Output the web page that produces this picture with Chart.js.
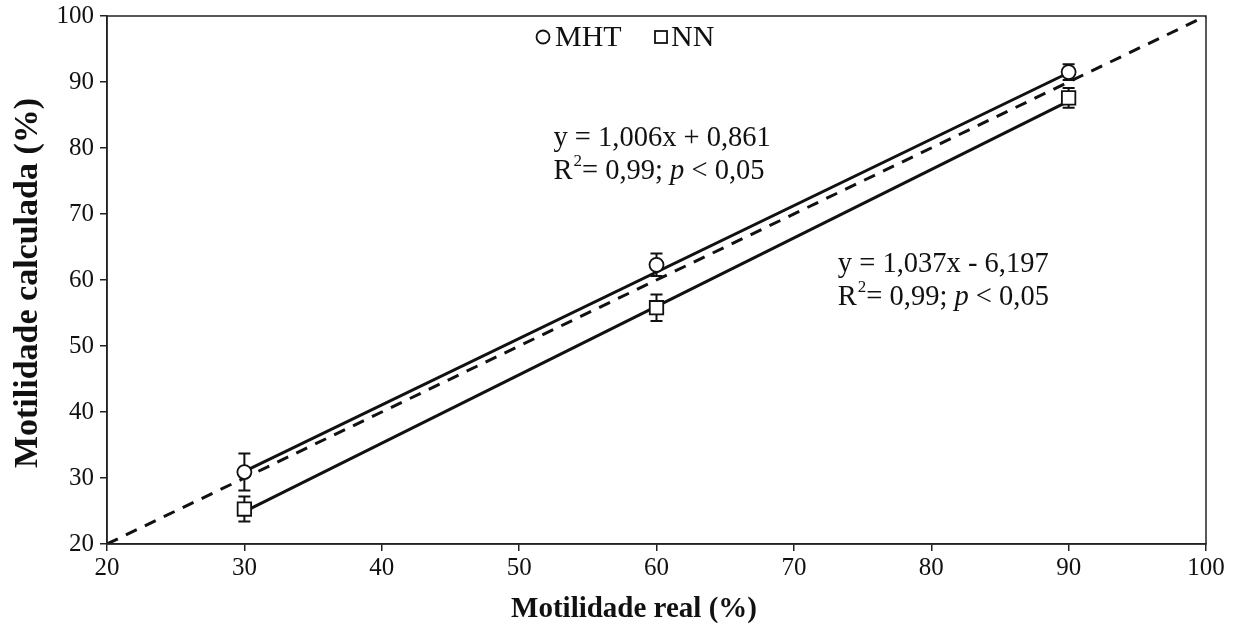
<!DOCTYPE html>
<html><head><meta charset="utf-8">
<script src="https://cdn.jsdelivr.net/npm/chart.js@4/dist/chart.umd.min.js"></script>
<style>html,body{margin:0;padding:0;background:#fff}#wrap{width:1238px;height:632px;position:relative}</style>
</head><body><div id="wrap"><canvas id="c"></canvas></div>
<script>
// ---- data ----
const realX = [30, 60, 90];
const mhtY = [30.9, 62.3, 91.5];
const mhtErr = [2.8, 1.7, 1.2];
const nnY = [25.3, 55.8, 87.6];
const nnErr = [1.9, 2.0, 1.5];
const fitX = [30, 90];
const mhtFit = [31.0, 91.4];
const nnFit = [24.9, 87.1];
const identX = [20, 100];
const identY = [20, 100];
const seriesNames = ['MHT', 'NN'];
const xTitle = 'Motilidade real (%)';
const yTitle = 'Motilidade calculada (%)';
const eqMHT = { line1: 'y = 1,006x + 0,861', r2: '0,99', p: '0,05', x: 52.5, y: 80.3 };
const eqNN = { line1: 'y = 1,037x - 6,197', r2: '0,99', p: '0,05', x: 73.2, y: 61.2 };

const FONT = "'Liberation Serif', 'Times New Roman', serif";
const pts = (xs, ys) => xs.map((x, i) => ({ x, y: ys[i] }));

const errorBars = {
  id: 'errorBars',
  beforeDatasetsDraw(chart) {
    const { ctx, scales: { x, y } } = chart;
    const sets = [[mhtY, mhtErr], [nnY, nnErr]];
    ctx.save();
    ctx.strokeStyle = '#111';
    ctx.lineWidth = 2;
    sets.forEach(([ys, es]) => {
      realX.forEach((xv, i) => {
        const px = x.getPixelForValue(xv);
        const top = y.getPixelForValue(ys[i] + es[i]);
        const bot = y.getPixelForValue(ys[i] - es[i]);
        ctx.beginPath();
        ctx.moveTo(px, top); ctx.lineTo(px, bot);
        ctx.moveTo(px - 6, top); ctx.lineTo(px + 6, top);
        ctx.moveTo(px - 6, bot); ctx.lineTo(px + 6, bot);
        ctx.stroke();
      });
    });
    ctx.restore();
  }
};

function drawEq(ctx, px, py, eq, size) {
  ctx.font = `${size}px ${FONT}`;
  ctx.fillStyle = '#111';
  ctx.textBaseline = 'alphabetic';
  ctx.textAlign = 'left';
  ctx.fillText(eq.line1, px, py);
  const y2 = py + size * 1.15;
  let cx = px;
  ctx.fillText('R', cx, y2); cx += ctx.measureText('R').width + 1;
  ctx.font = `${Math.round(size * 0.58)}px ${FONT}`;
  ctx.fillText('2', cx, y2 - size * 0.45);
  cx += ctx.measureText('2').width;
  ctx.font = `${size}px ${FONT}`;
  const s1 = '= ' + eq.r2 + '; ';
  ctx.fillText(s1, cx, y2); cx += ctx.measureText(s1).width;
  ctx.font = `italic ${size}px ${FONT}`;
  ctx.fillText('p', cx, y2); cx += ctx.measureText('p').width;
  ctx.font = `${size}px ${FONT}`;
  ctx.fillText(' < ' + eq.p, cx, y2);
}

const overlay = {
  id: 'overlay',
  afterDraw(chart) {
    const { ctx, chartArea: a, scales: { x, y } } = chart;
    ctx.save();
    // frame
    ctx.strokeStyle = '#222';
    ctx.lineWidth = 1.5;
    ctx.strokeRect(a.left, a.top, a.right - a.left, a.bottom - a.top);
    // axis titles
    ctx.fillStyle = '#111';
    ctx.textAlign = 'center';
    ctx.textBaseline = 'middle';
    ctx.font = `bold 29px ${FONT}`;
    ctx.fillText(xTitle, 634, 610);
    ctx.save();
    ctx.translate(28, 283);
    ctx.rotate(-Math.PI / 2);
    ctx.font = `bold 34px ${FONT}`;
    ctx.fillText(yTitle, 0, 0);
    ctx.restore();
    // equations
    [eqMHT, eqNN].forEach(eq => drawEq(ctx, x.getPixelForValue(eq.x), y.getPixelForValue(eq.y), eq, 28.5));
    // legend
    const ly = a.top + 21;
    ctx.font = `30px ${FONT}`;
    ctx.textBaseline = 'middle';
    ctx.textAlign = 'left';
    ctx.strokeStyle = '#111';
    ctx.lineWidth = 1.8;
    ctx.fillStyle = '#fff';
    let lx = 543;
    ctx.beginPath(); ctx.arc(lx, ly, 6.5, 0, Math.PI * 2); ctx.fill(); ctx.stroke();
    ctx.fillStyle = '#111';
    ctx.fillText(seriesNames[0], lx + 12, ly + 1);
    lx = 661;
    ctx.fillStyle = '#fff';
    ctx.fillRect(lx - 6, ly - 6, 12, 12); ctx.strokeRect(lx - 6, ly - 6, 12, 12);
    ctx.fillStyle = '#111';
    ctx.fillText(seriesNames[1], lx + 10, ly + 1);
    ctx.restore();
  }
};

new Chart(document.getElementById('c'), {
  data: {
    datasets: [
      { type: 'scatter', label: seriesNames[0], data: pts(realX, mhtY), pointStyle: 'circle', pointRadius: 7, pointHoverRadius: 7,
        pointBackgroundColor: '#fff', pointBorderColor: '#111', pointBorderWidth: 1.8 },
      { type: 'scatter', label: seriesNames[1], data: pts(realX, nnY), pointStyle: 'rect', pointRadius: 9.5, pointHoverRadius: 9.5,
        pointBackgroundColor: '#fff', pointBorderColor: '#111', pointBorderWidth: 1.8 },
      { type: 'line', label: 'MHT fit', data: pts(fitX, mhtFit), borderColor: '#111', borderWidth: 3, pointRadius: 0, fill: false },
      { type: 'line', label: 'NN fit', data: pts(fitX, nnFit), borderColor: '#111', borderWidth: 3, pointRadius: 0, fill: false },
      { type: 'line', label: '1:1', data: pts(identX, identY), borderColor: '#111', borderWidth: 3, borderDash: [12, 9], pointRadius: 0, fill: false }
    ]
  },
  options: {
    responsive: true,
    maintainAspectRatio: false,
    animation: false,
    devicePixelRatio: 1,
    layout: { padding: { left: 0, right: 32, top: 16, bottom: 0 } },
    plugins: { legend: { display: false }, tooltip: { enabled: false } },
    scales: {
      x: {
        type: 'linear', min: 20, max: 100,
        ticks: { stepSize: 10, color: '#111', font: { family: FONT, size: 25 }, padding: 2, maxRotation: 0 },
        grid: { display: true, drawOnChartArea: false, drawTicks: true, tickLength: 7, color: '#222', lineWidth: 1.5 },
        border: { display: true, color: '#222', width: 1.5 },
        title: { display: false },
        afterFit(s) { s.height = 88; s.paddingLeft = 0; s.paddingRight = 0; }
      },
      y: {
        type: 'linear', min: 20, max: 100,
        ticks: { stepSize: 10, color: '#111', font: { family: FONT, size: 25 }, padding: 6 },
        grid: { display: true, drawOnChartArea: false, drawTicks: true, tickLength: 7, color: '#222', lineWidth: 1.5 },
        border: { display: true, color: '#222', width: 1.5 },
        title: { display: false },
        afterFit(s) { s.width = 107; s.paddingTop = 0; s.paddingBottom = 0; }
      }
    }
  },
  plugins: [errorBars, overlay]
});
</script>
</body></html>
